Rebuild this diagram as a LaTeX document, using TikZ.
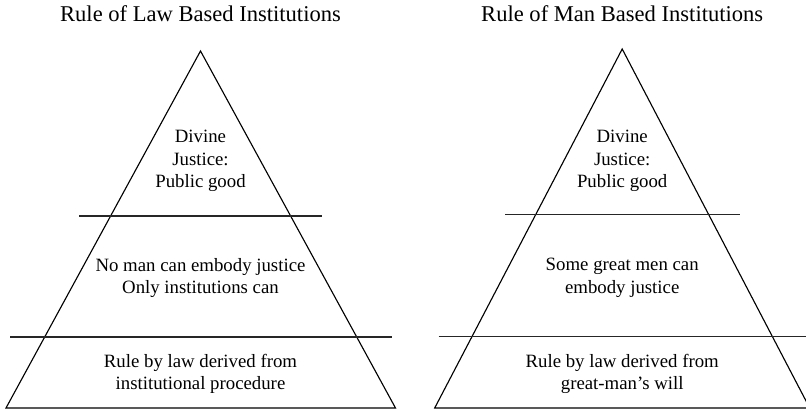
\documentclass[tikz,border=0pt]{standalone}
\usepackage{fontspec}
\setmainfont{Liberation Serif}
\usepackage{tikz}

\begin{document}
\begin{tikzpicture}[x=0.532pt, y=-0.532pt, line width=0.6pt,
      every node/.append style={font=\fontsize{10}{12}\selectfont,align=center,inner sep=0pt}]
    \tikzstyle{heading} = [font=\fontsize{12}{14}\selectfont,anchor=base]
    \tikzstyle{divider} = [line width=0.7pt,color=black!85]
    \useasboundingbox (0,0) rectangle (806,409);
    % rule of law
    \coordinate (Ltop) at (200.5,51);
    \coordinate (Lleft) at (6,408);
    \coordinate (Lright) at (395.5,408);
    \coordinate (Lup1) at (79.3,216);
    \coordinate (Lup2) at (321.7,216);
    \coordinate (Llow1) at (10,337);
    \coordinate (Llow2) at (391.7,337);
    \node [heading] (Ltitle) at (200.5,21.5) {Rule of Law Based Institutions};
    \draw (Ltop) -- (Lleft) -- (Lright) -- cycle;
    \draw [divider] (Lup1) -- (Lup2);
    \draw [divider] (Llow1) -- (Llow2);
    \node (Ldivine) at (200.5,161) {Divine\\Justice:\\Public good};
    \node (Lnoman) at (200.5,278) {No man can embody justice\\Only institutions can};
    \node (Lrule) at (200.5,374) {Rule by law derived from\\institutional procedure};
    % rule of man
    \coordinate (Rtop) at (622.2,49);
    \coordinate (Rleft) at (434.7,408);
    \coordinate (Rright) at (809.7,408);
    \coordinate (Rup1) at (505,214.5);
    \coordinate (Rup2) at (739.5,214.5);
    \coordinate (Rlow1) at (438.7,336.5);
    \coordinate (Rlow2) at (806,336.5);
    \node [heading] (Rtitle) at (622.2,21.5) {Rule of Man Based Institutions};
    \draw (Rtop) -- (Rleft) -- (Rright) -- cycle;
    \draw [divider] (Rup1) -- (Rup2);
    \draw [divider] (Rlow1) -- (Rlow2);
    \node (Rdivine) at (622.2,161) {Divine\\Justice:\\Public good};
    \node (Rsome) at (622.2,278) {Some great men can\\embody justice};
    \node (Rrule) at (622.2,374) {Rule by law derived from\\great-man's will};
\end{tikzpicture}
\end{document}
